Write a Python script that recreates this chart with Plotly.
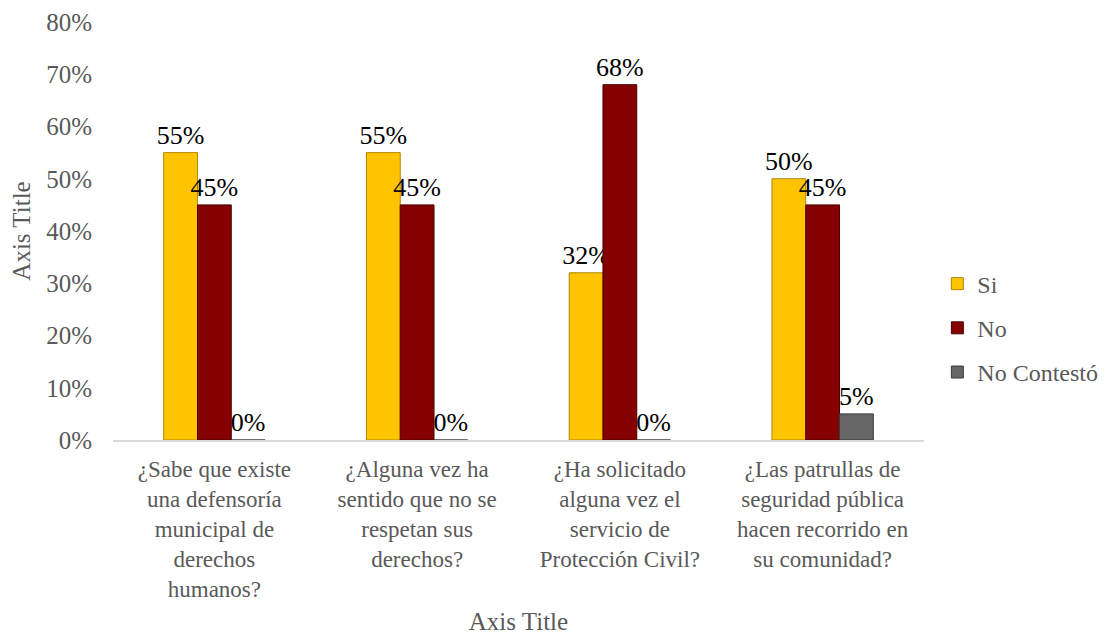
import plotly.graph_objects as go

categories = [
    "¿Sabe que existe<br>una defensoría<br>municipal de<br>derechos<br>humanos?",
    "¿Alguna vez ha<br>sentido que no se<br>respetan sus<br>derechos?",
    "¿Ha solicitado<br>alguna vez el<br>servicio de<br>Protección Civil?",
    "¿Las patrullas de<br>seguridad pública<br>hacen recorrido en<br>su comunidad?",
]
si_values = [0.55, 0.55, 0.32, 0.50]
no_values = [0.45, 0.45, 0.68, 0.45]
nc_values = [0.0, 0.0, 0.0, 0.05]
y_ticks = [0, 0.1, 0.2, 0.3, 0.4, 0.5, 0.6, 0.7, 0.8]

FONT = "Liberation Serif"
series = [
    ("Si", si_values, "#FFC400", "#B08600"),
    ("No", no_values, "#850000", "#4A0000"),
    ("No Contestó", nc_values, "#666666", "#3A3A3A"),
]

fig = go.Figure()
for i, (name, vals, col, edge) in enumerate(series):
    fig.add_trace(go.Bar(
        name=name, x=categories, y=vals,
        marker=dict(color=col, line=dict(color=edge, width=1)),
        text=[f"{v:.0%}" for v in vals], textposition="outside",
        constraintext="none",
        textfont=dict(family=FONT, size=26, color="#000000"),
        cliponaxis=False, legendgroup=f"g{i}",
    ))

fig.update_layout(
    barmode="group", bargap=0.5, bargroupgap=0,
    width=1113, height=635,
    margin=dict(l=105, r=197, t=14, b=203, autoexpand=False),
    paper_bgcolor="white", plot_bgcolor="white",
    font=dict(family=FONT, size=24, color="#595959"),
    legend=dict(xref="container", x=0.835, xanchor="left",
                yref="container", y=0.496, yanchor="middle",
                font=dict(family=FONT, size=24, color="#595959"),
                tracegroupgap=10),
    xaxis=dict(showline=True, linecolor="#D9D9D9", linewidth=1.5,
               tickfont=dict(family=FONT, size=23, color="#595959"),
               ticks="", showgrid=False, automargin=False,
               ticklabelstandoff=8,
               title=dict(text="Axis Title", font=dict(family=FONT, size=25, color="#595959"), standoff=12)),
    yaxis=dict(range=[0, 0.8], tickvals=y_ticks, tickformat=".0%",
               showgrid=False, zeroline=False, showline=False, automargin=False,
               tickfont=dict(family=FONT, size=25, color="#595959"),
               ticklabelstandoff=20,
               title=dict(text="Axis Title", font=dict(family=FONT, size=25, color="#595959"), standoff=10)),
)

fig.write_html("out.html")
